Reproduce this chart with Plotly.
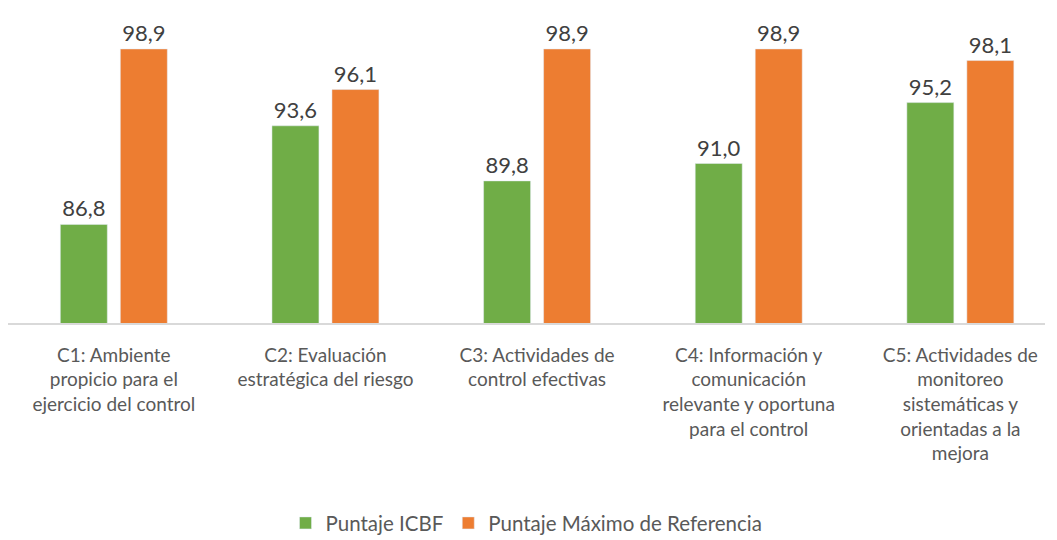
import plotly.graph_objects as go

categorias = [
    "C1: Ambiente<br>propicio para el<br>ejercicio del control",
    "C2: Evaluación<br>estratégica del riesgo",
    "C3: Actividades de<br>control efectivas",
    "C4: Información y<br>comunicación<br>relevante y oportuna<br>para el control",
    "C5: Actividades de<br>monitoreo<br>sistemáticas y<br>orientadas a la<br>mejora",
]
puntaje_icbf = [86.8, 93.6, 89.8, 91.0, 95.2]
puntaje_max = [98.9, 96.1, 98.9, 98.9, 98.1]


def etiqueta(v):
    return f"{v:.1f}".replace(".", ",")


fuente = "Lato, 'Open Sans', sans-serif"
gris = "#595959"

fig = go.Figure()
fig.add_trace(go.Bar(
    x=categorias, y=puntaje_icbf, name="Puntaje ICBF",
    marker_color="#70AD47",
    text=[etiqueta(v) for v in puntaje_icbf], textposition="outside",
    textfont=dict(size=22, color="#404040"), cliponaxis=False,
))
fig.add_trace(go.Bar(
    x=categorias, y=puntaje_max, name="Puntaje Máximo de Referencia",
    marker_color="#ED7D31",
    text=[etiqueta(v) for v in puntaje_max], textposition="outside",
    textfont=dict(size=22, color="#404040"), cliponaxis=False,
))

# la página tiene 8px de margen en el body, por eso 1049x532
fig.update_layout(
    width=1049, height=532,
    margin=dict(l=0, r=12, t=25, b=217, autoexpand=False),
    plot_bgcolor="white", paper_bgcolor="white",
    font=dict(family=fuente, color=gris, size=19),
    barmode="group", bargap=0.433, bargroupgap=0.217,
    showlegend=True,
    legend=dict(orientation="h", x=0.5, xanchor="center", y=-0.621, yanchor="top",
                font=dict(size=20.5, color=gris), itemwidth=30),
    xaxis=dict(range=[-0.5, 4.4], showline=True, linecolor="#D9D9D9", linewidth=1.5,
               automargin=False, ticks="outside", ticklen=14,
               tickcolor="rgba(0,0,0,0)", tickfont=dict(size=19, color=gris)),
    yaxis=dict(range=[80, 100], visible=False, automargin=False),
)

fig.write_html("out.html")
